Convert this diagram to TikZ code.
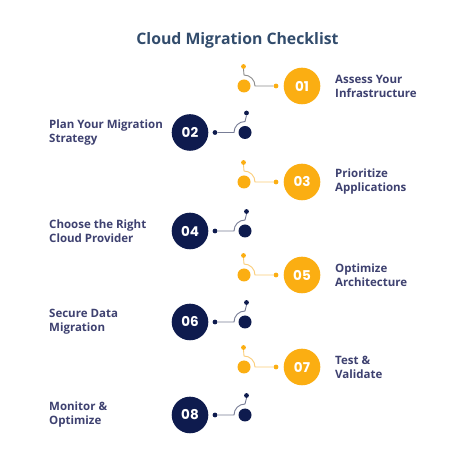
\documentclass[tikz,border=0pt]{standalone}
\usepackage{fontspec}
\setmainfont{Open Sans}
\newfontfamily\numfont{Poppins}
\usetikzlibrary{calc}
\definecolor{accent}{RGB}{251,174,18}
\definecolor{accentline}{RGB}{251,205,120}
\definecolor{navy}{RGB}{14,27,78}
\definecolor{navyline}{RGB}{120,125,150}
\definecolor{greyline}{RGB}{140,140,140}
\definecolor{labelc}{RGB}{62,65,112}
\definecolor{titlec}{RGB}{50,76,108}
\tikzset{
  numbadge/.style={circle, inner sep=0pt, minimum size=36.6pt, text=white,
    font=\numfont\bfseries\fontsize{13.5}{13.5}\selectfont},
  bigdot/.style={circle, inner sep=0pt, minimum size=13pt},
  smalldot/.style={circle, inner sep=0pt, minimum size=4.8pt},
  itemlabel/.style={align=left, text=labelc, inner sep=0pt,
    font=\bfseries\fontsize{11.5}{14}\selectfont},
  link/.style={line width=0.9pt},
}
\begin{document}
\begin{tikzpicture}[x=1pt,y=1pt]
\useasboundingbox (0,0) rectangle (471,463);
\fill[white] (0,0) rectangle (471,463);

\node[text=titlec, font=\bfseries\fontsize{15.8}{15.8}\selectfont] (title) at (237.5,423) {Cloud Migration Checklist};

% odd steps: orange badge on the right, label further right
\foreach \i/\Y/\lc/\txt in {1/377/greyline/{Assess Your\\Infrastructure},
                           3/281/accentline/{Prioritize\\Applications},
                           5/188/accentline/{Optimize\\Architecture},
                           7/96/accentline/{Test \&\\Validate}}{
  \node[numbadge, fill=accent] (n\i) at (302,\Y) {0\i};
  \node[bigdot, fill=accent] (d\i) at (244,\Y) {};
  \node[smalldot, fill=accent] (s\i) at (276,\Y) {};
  \node[smalldot, fill=accent] (t\i) at (243.5,\Y+19.5) {};
  \node[itemlabel, anchor=west] (l\i) at (335,\Y) {\txt};
  \draw[link, draw=\lc] (t\i.south) -- ($(d\i.center)+(0,11)$)
      arc[start angle=90, end angle=0, radius=11] -- (s\i.west);
}

% even steps: navy badge on the left, label further left
\foreach \i/\Y/\txt in {2/330.5/{Plan Your Migration\\Strategy},
                        4/232/{Choose the Right\\Cloud Provider},
                        6/141/{Secure Data\\Migration},
                        8/48/{Monitor \&\\Optimize}}{
  \node[numbadge, fill=navy] (n\i) at (190,\Y) {0\i};
  \node[bigdot, fill=navy] (d\i) at (245,\Y) {};
  \node[smalldot, fill=navy] (s\i) at (215,\Y) {};
  \node[smalldot, fill=navy] (t\i) at (246.5,\Y+19.5) {};
  \node[itemlabel, anchor=west] (l\i) at (49,\Y) {\txt};
  \draw[link, draw=navyline] (t\i.south) -- ($(d\i.center)+(0,11)$)
      arc[start angle=90, end angle=180, radius=11] -- (s\i.east);
}
\end{tikzpicture}
\end{document}
